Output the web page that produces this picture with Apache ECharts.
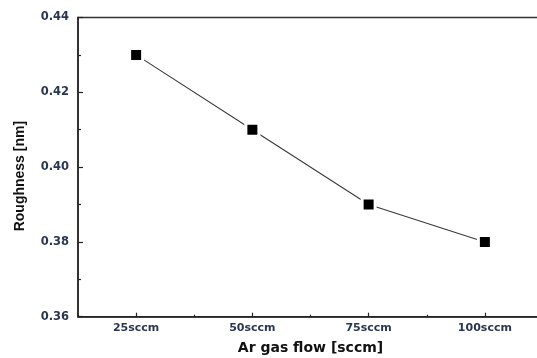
<!DOCTYPE html>
<html>
<head>
<meta charset="utf-8">
<script src="https://cdn.jsdelivr.net/npm/echarts@6/dist/echarts.min.js"></script>
<style>html,body{margin:0;padding:0;background:#fff}#c{width:537px;height:358px}</style>
</head>
<body>
<div id="c"></div>
<script>
var categories = ['25sccm', '50sccm', '75sccm', '100sccm'];
var roughness = [0.43, 0.41, 0.39, 0.38];
var yTicks = [0.36, 0.38, 0.40, 0.42, 0.44];
var xTitle = 'Ar gas flow [sccm]';
var yTitle = 'Roughness [nm]';

var chart = echarts.init(document.getElementById('c'), null, {renderer: 'canvas'});
chart.setOption({
  animation: false,
  backgroundColor: '#fff',
  grid: {left: 78, top: 17.5, width: 465, height: 299.2, outerBoundsMode: 'none', containLabel: false,
    show: true, borderColor: '#333', borderWidth: 1.5, backgroundColor: 'transparent'},
  xAxis: [{
    type: 'category',
    data: categories,
    position: 'bottom',
    boundaryGap: true,
    name: xTitle,
    nameLocation: 'middle',
    nameGap: 25,
    nameTextStyle: {fontFamily: 'DejaVu Sans', fontWeight: 'bold', fontSize: 14, color: '#111'},
    axisLine: {show: true, lineStyle: {color: '#222', width: 1.5}},
    axisTick: {show: true, inside: true, alignWithLabel: true, length: 4, lineStyle: {color: '#222', width: 1.2}},
    axisLabel: {margin: 6, fontFamily: 'DejaVu Sans', fontWeight: 'bold', fontSize: 11, color: '#2b3652'},
    splitLine: {show: false}
  }, {
    type: 'category',
    data: categories,
    position: 'bottom',
    boundaryGap: true,
    axisLine: {show: false},
    axisTick: {show: true, inside: true, alignWithLabel: false, length: 2, lineStyle: {color: '#222', width: 1.2}},
    axisLabel: {show: false},
    splitLine: {show: false}
  }],
  yAxis: {
    type: 'value',
    min: yTicks[0],
    max: yTicks[yTicks.length - 1],
    interval: 0.02,
    name: yTitle,
    nameLocation: 'middle',
    nameGap: 51,
    nameTextStyle: {fontFamily: 'Liberation Sans', fontWeight: 'bold', fontSize: 14, color: '#111', padding: [0, 18, 0, 0]},
    axisLine: {show: true, lineStyle: {color: '#222', width: 1.5}},
    axisTick: {show: true, inside: true, length: 5, lineStyle: {color: '#222', width: 1.2}},
    minorTick: {show: true, splitNumber: 2, length: 3, lineStyle: {color: '#222', width: 1.2}},
    axisLabel: {margin: 9, fontFamily: 'DejaVu Sans', fontWeight: 'bold', fontSize: 11.5, color: '#2b3652',
      formatter: function (v) { return v.toFixed(2); }},
    splitLine: {show: false},
    minorSplitLine: {show: false}
  },
  series: [{
    type: 'line',
    xAxisIndex: 0,
    data: roughness,
    symbol: 'rect',
    symbolSize: 13,
    itemStyle: {color: '#000', borderColor: '#fff', borderWidth: 3},
    lineStyle: {color: '#3a3a3a', width: 1.1}
  }]
});
</script>
</body>
</html>
